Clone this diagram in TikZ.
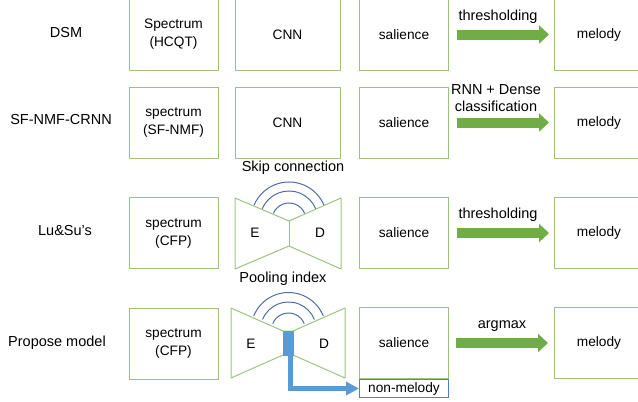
\documentclass[tikz,border=0pt]{standalone}
\usepackage{fontspec}
\setmainfont{Liberation Sans}
\usepackage{xcolor}
\usepackage{tikz}
\usetikzlibrary{positioning,arrows.meta}

\definecolor{boxgreen}{HTML}{9BC57F}
\definecolor{arrowgreen}{HTML}{70AD47}
\definecolor{arcblue}{HTML}{4F6DA8}
\definecolor{poolblue}{HTML}{5B9BD5}
\definecolor{nmblue}{HTML}{4F7FCF}

\begin{document}
\begin{tikzpicture}[x=1pt, y=-1pt,
        stage/.style = {draw=boxgreen, line width=1pt, minimum width=89pt, minimum height=71pt,
                        inner sep=0pt, align=center, font=\fontsize{13.7}{18}\selectfont},
        wide/.style = {stage, minimum width=105pt},
        model/.style = {font=\fontsize{14.5}{17}\selectfont},
        tag/.style = {font=\fontsize{14.5}{17}\selectfont, align=center},
        half/.style = {font=\fontsize{13.7}{16}\selectfont},
        flow/.style = {draw=arrowgreen, line width=10pt, -{Triangle[length=10pt, width=18pt]}},
        edge/.style = {draw=boxgreen, line width=1pt, line join=round},
        skip/.style = {draw=arcblue, line width=1pt},
        pool/.style = {draw=poolblue, line width=5pt, -{Triangle[length=13pt, width=13pt]}}
    ]
        \useasboundingbox (0,0) rectangle (638,402);
        \clip (0,0) rectangle (638,402);

        \node[model] (m1) at (66,33) {DSM};
        \node[model] (m2) at (61,120) {SF-NMF-CRNN};
        \node[model] (m3) at (65,231) {Lu\&Su’s};
        \node[model] (m4) at (57,343) {Propose model};

        \node[stage] (spec1) at (173.5,34.5) {Spectrum\\(HCQT)};
        \node[wide] (cnn1) at (287.5,34.5) {CNN};
        \node[stage] (sal1) at (404,34.5) {salience};
        \node[stage] (mel1) at (599,34.5) {melody};
        \draw[flow] ([xshift=8pt]sal1.east) -- node[tag, above=3pt, xshift=-5pt] {thresholding} ([xshift=-5pt]mel1.west);

        \node[stage] (spec2) at (173.5,122.5) {spectrum\\(SF-NMF)};
        \node[wide] (cnn2) at (287.5,122.5) {CNN};
        \node[stage] (sal2) at (404,122.5) {salience};
        \node[stage] (mel2) at (599,122.5) {melody};
        \draw[flow] ([xshift=8pt]sal2.east) -- node[tag, above=3pt, xshift=-7pt] {RNN + Dense\\classification} ([xshift=-5pt]mel2.west);

        \node[stage] (spec3) at (173.5,233) {spectrum\\(CFP)};
        \draw[edge] (235,198) -- (289,221) -- (341,198) -- (341,269) -- (289,246) -- (235,269) -- cycle;
        \draw[edge] (289,221) -- (289,246);
        \foreach \r in {17,29,38}
            \draw[skip] (289,220) ++(-157:\r) arc[start angle=-157, end angle=-23, radius=\r];
        \node[tag] (skiplbl) at (293,168) {Skip connection};
        \node[half] (enc3) at (255,233) {E};
        \node[half] (dec3) at (320,233) {D};
        \node[stage] (sal3) at (404,233) {salience};
        \node[stage] (mel3) at (599,233) {melody};
        \draw[flow] ([xshift=8pt]sal3.east) -- node[tag, above=3pt, xshift=-5pt] {thresholding} ([xshift=-5pt]mel3.west);

        \node[stage] (spec4) at (173.5,343.5) {spectrum\\(CFP)};
        \draw[edge] (231,308) -- (283,331) -- (293,331) -- (345,308) -- (345,378) -- (293,355) -- (283,355) -- (231,378) -- cycle;
        \foreach \r in {17,28,37.5}
            \draw[skip] (288.5,330) ++(-158:\r) arc[start angle=-158, end angle=-22, radius=\r];
        \node[tag] (poollbl) at (283,279) {Pooling index};
        \node[half] (enc4) at (251,344) {E};
        \node[half] (dec4) at (324,344) {D};
        \node[draw=poolblue, fill=poolblue, minimum width=10pt, minimum height=24pt, inner sep=0pt] (pidx) at (288,343) {};
        \node[stage] (sal4) at (404,343) {salience};
        \node[draw=nmblue, line width=1pt, minimum width=89pt, minimum height=18pt, inner sep=0pt,
              half, below=0pt of sal4] (nonmel) {non-melody};
        \node[stage] (mel4) at (599,343) {melody};
        \draw[flow] ([xshift=7pt]sal4.east) -- node[tag, above=3pt] {argmax} ([xshift=-6pt]mel4.west);
        \draw[pool] ([xshift=2pt]pidx.south) |- (nonmel.west);
    \end{tikzpicture}
\end{document}
